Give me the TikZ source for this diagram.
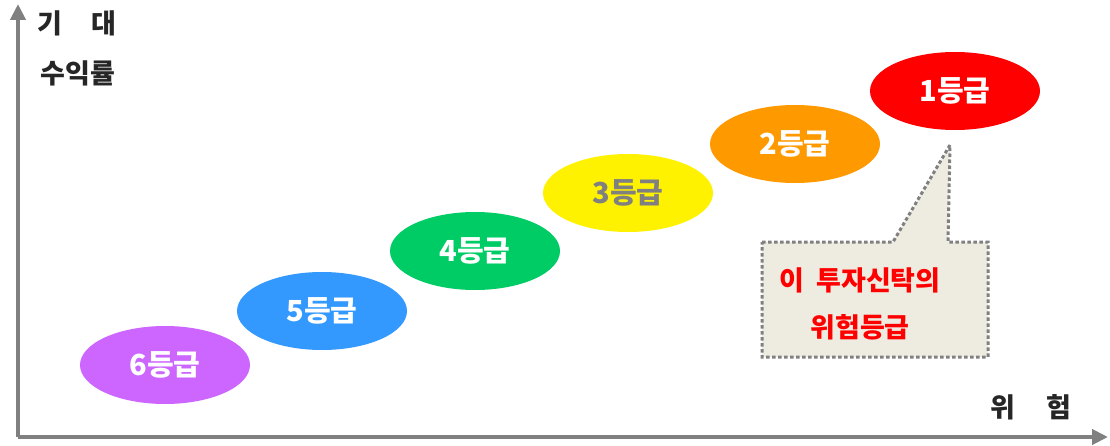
\documentclass[tikz,border=0pt]{standalone}
\usepackage{fontspec}
\setmainfont{Noto Sans CJK KR}
\usetikzlibrary{shapes.geometric, arrows.meta}

\definecolor{axisgray}{HTML}{808080}
\definecolor{labeldark}{HTML}{262626}
\definecolor{bubblefill}{HTML}{EEECE1}

\begin{document}
\begin{tikzpicture}[x=1pt, y=1pt,
    grade/.style={ellipse, minimum width=170pt, minimum height=78pt, inner sep=0pt,
        font=\fontsize{29}{32}\selectfont\bfseries, text=white},
    axislabel/.style={font=\fontsize{27}{30}\selectfont\bfseries, text=labeldark},
    note/.style={font=\fontsize{27}{30}\selectfont\bfseries, text=red}]

        % fix the page size to the reference
        \useasboundingbox (0,0) rectangle (1110,445);

        % the two axes
        \coordinate (origin) at (18,8);
        \coordinate (y top) at (18,441);
        \coordinate (x end) at (1108,8);
        \draw[axisgray, line width=4pt, -{Triangle[length=16pt, width=15pt]}] (origin) -- (y top);
        \draw[axisgray, line width=4pt, -{Triangle[length=16pt, width=15pt]}] (origin) -- (x end);

        % axis titles
        \node[axislabel] (gidae) at (77,422) {기\hspace{1.05em}대};
        \node[axislabel] (suik) at (78,372) {수익률};
        \node[axislabel] (wiheom) at (1031,38) {위\hspace{1.15em}험};

        % the six grades
        \node[grade, fill={rgb,255:red,204;green,102;blue,255}] (g6) at (165,80) {6등급};
        \node[grade, fill={rgb,255:red,51;green,153;blue,255}] (g5) at (322,134) {5등급};
        \node[grade, fill={rgb,255:red,0;green,204;blue,102}] (g4) at (475,194) {4등급};
        \node[grade, fill=yellow, text=axisgray] (g3) at (628,252) {3등급};
        \node[grade, fill={rgb,255:red,255;green,153;blue,0}] (g2) at (795,301) {2등급};
        \node[grade, fill=red] (g1) at (955,354) {1등급};

        % speech bubble pointing at grade 1
        \filldraw[fill=bubblefill, draw=axisgray, line width=3pt, dash pattern=on 3.5pt off 2.5pt]
            (762,203) -- (893,203) -- (950,300) -- (948,203) -- (988,203)
            -- (988,88) -- (762,88) -- cycle;
        \node[note] (note1) at (860,165) {이\hspace{0.45em}투자신탁의};
        \node[note] (note2) at (860,118) {위험등급};
\end{tikzpicture}
\end{document}
